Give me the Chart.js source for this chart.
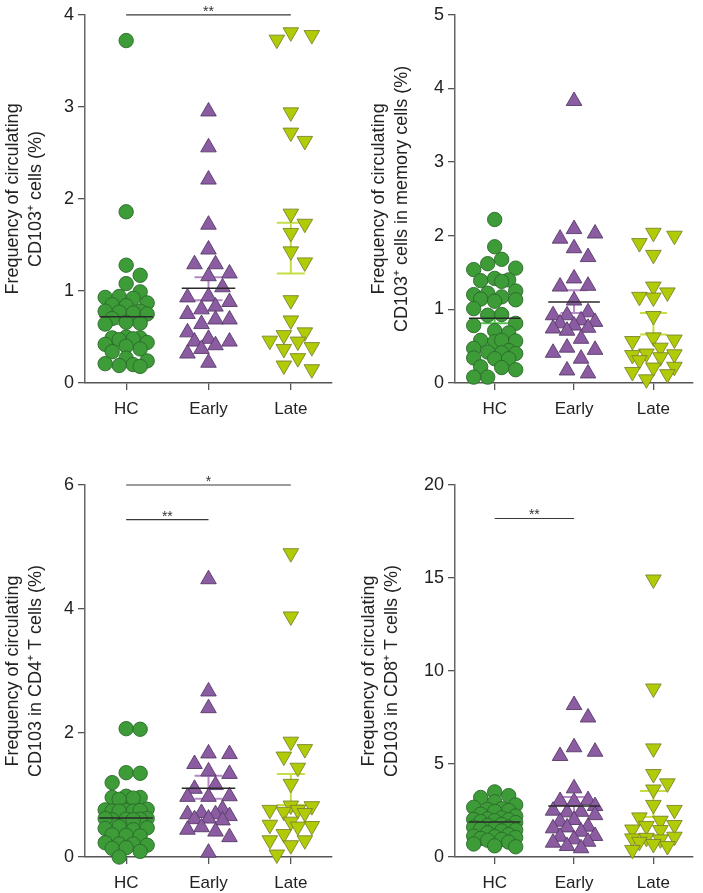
<!DOCTYPE html>
<html><head><meta charset="utf-8">
<script src="https://cdn.jsdelivr.net/npm/chart.js@4.4.1/dist/chart.umd.min.js"></script>
<style>
html,body{margin:0;padding:0;background:#fff;width:703px;height:893px;overflow:hidden}
canvas{position:absolute}
</style></head><body>
<canvas id="c1" width="352" height="430" style="left:0px;top:0px"></canvas>
<canvas id="c2" width="351" height="430" style="left:352px;top:0px"></canvas>
<canvas id="c3" width="352" height="453" style="left:0px;top:440px"></canvas>
<canvas id="c4" width="351" height="453" style="left:352px;top:440px"></canvas>
<script>
// ---------- DATA ----------
const categories = ['HC', 'Early', 'Late'];

// Panel A: CD103+ cells (%)
const hcCD103 = [3.72, 1.86, 1.28, 1.17, 1.08, 0.99, 0.93, 0.92, 0.94, 0.87, 0.85, 0.84, 0.78, 0.76, 0.77, 0.75, 0.78, 0.70, 0.66, 0.64, 0.65, 0.49, 0.50, 0.49, 0.48, 0.47, 0.42, 0.44, 0.37, 0.40, 0.34, 0.27, 0.24, 0.20, 0.19, 0.18, 0.21];
const earlyCD103 = [2.95, 2.56, 2.21, 1.72, 1.45, 1.29, 1.29, 1.19, 1.16, 1.04, 0.94, 0.88, 0.93, 0.83, 0.80, 0.75, 0.69, 0.69, 0.64, 0.55, 0.45, 0.48, 0.45, 0.41, 0.37, 0.32, 0.22];
const lateCD103 = [3.81, 3.78, 3.73, 2.94, 2.72, 2.63, 1.84, 1.73, 1.63, 1.43, 1.31, 0.90, 0.68, 0.55, 0.52, 0.46, 0.45, 0.39, 0.37, 0.27, 0.19, 0.15];
const meanCD103 = [0.72, 1.03, null];
const semLowCD103 = [0.64, 0.90, 1.19];
const semHighCD103 = [0.80, 1.15, 1.74];
const sigCD103 = [[0, 2, 4, '**']];

// Panel B: CD103+ cells in memory cells (%)
const hcMemory = [2.22, 1.85, 1.68, 1.62, 1.56, 1.54, 1.39, 1.42, 1.40, 1.38, 1.25, 1.22, 1.20, 1.13, 1.17, 1.14, 1.11, 1.01, 0.93, 0.92, 0.81, 0.78, 0.71, 0.68, 0.58, 0.56, 0.58, 0.57, 0.47, 0.44, 0.41, 0.42, 0.40, 0.33, 0.34, 0.33, 0.21, 0.18, 0.22, 0.08, 0.08];
const earlyMemory = [3.83, 2.09, 2.03, 1.96, 1.83, 1.71, 1.42, 1.32, 1.31, 1.12, 0.96, 0.92, 0.92, 0.85, 0.83, 0.81, 0.78, 0.75, 0.74, 0.71, 0.60, 0.48, 0.45, 0.41, 0.33, 0.17, 0.13];
const lateMemory = [2.04, 2.00, 1.90, 1.74, 1.31, 1.23, 1.17, 1.16, 0.91, 0.62, 0.57, 0.59, 0.48, 0.40, 0.39, 0.38, 0.35, 0.31, 0.22, 0.21, 0.15, 0.12, 0.05];
const meanMemory = [0.88, 1.10, null];
const semLowMemory = [0.81, 0.95, 0.66];
const semHighMemory = [0.96, 1.26, 0.95];
const sigMemory = [];

// Panel C: CD103 in CD4+ T cells (%)
const hcCD4 = [2.07, 2.06, 1.36, 1.35, 1.20, 0.98, 0.96, 0.95, 0.96, 0.93, 0.76, 0.75, 0.74, 0.77, 0.74, 0.74, 0.75, 0.62, 0.61, 0.60, 0.62, 0.61, 0.60, 0.47, 0.49, 0.44, 0.46, 0.36, 0.35, 0.34, 0.23, 0.21, 0.19, 0.21, 0.14, 0.15, 0.09, 0.0];
const earlyCD4 = [4.48, 2.67, 2.40, 1.67, 1.66, 1.50, 1.38, 1.34, 1.16, 1.10, 0.98, 0.97, 0.97, 0.77, 0.71, 0.69, 0.69, 0.66, 0.62, 0.61, 0.59, 0.48, 0.44, 0.41, 0.32, 0.07];
const lateCD4 = [4.90, 3.88, 1.86, 1.74, 1.62, 1.44, 1.18, 0.83, 0.82, 0.76, 0.76, 0.73, 0.71, 0.57, 0.52, 0.50, 0.49, 0.37, 0.27, 0.27, 0.19, 0.04];
const meanCD4 = [0.63, 1.11, null];
const semLowCD4 = [0.55, 0.94, 0.84];
const semHighCD4 = [0.71, 1.31, 1.34];
const sigCD4 = [[0, 2, 6, '*'], [0, 1, 5.44, '**']];

// Panel D: CD103 in CD8+ T cells (%)
const hcCD8 = [3.5, 3.3, 3.2, 2.97, 2.8, 2.67, 2.6, 2.55, 2.5, 2.45, 2.3, 2.2, 2.1, 2.05, 2.02, 2.0, 1.95, 1.9, 1.85, 1.75, 1.7, 1.6, 1.6, 1.55, 1.5, 1.45, 1.4, 1.3, 1.2, 1.12, 1.1, 1.05, 1.0, 0.95, 0.9, 0.8, 0.7, 0.6, 0.55];
const earlyCD8 = [8.17, 7.5, 5.9, 5.66, 5.43, 3.69, 3.06, 3.01, 2.97, 2.74, 2.49, 2.43, 2.40, 2.25, 1.99, 1.90, 1.63, 1.59, 1.54, 1.36, 1.13, 1.09, 0.95, 0.82, 0.77, 0.59, 0.47];
const lateCD8 = [14.92, 9.06, 5.84, 4.46, 3.96, 3.63, 2.80, 2.53, 2.13, 1.95, 1.72, 1.67, 1.48, 1.45, 1.09, 1.03, 1.00, 0.95, 0.82, 0.70, 0.59, 0.38];
const meanCD8 = [1.88, 2.74, null];
const semLowCD8 = [1.72, 2.28, 2.15];
const semHighCD8 = [2.04, 3.22, 3.55];
const sigCD8 = [[0, 1, 18.2, '**']];

// Axis settings
const yMaxList = [4, 5, 6, 20];
const yStepList = [1, 1, 2, 5];
const titleCD103 = ['Frequency of circulating', 'CD103\u207A cells (%)'];
const titleMemory = ['Frequency of circulating', 'CD103\u207A cells in memory cells (%)'];
const titleCD4 = ['Frequency of circulating', 'CD103 in CD4\u207A T cells (%)'];
const titleCD8 = ['Frequency of circulating', 'CD103 in CD8\u207A T cells (%)'];

// ---------- STYLE ----------
const FILL = ['#3d9b38', '#8c5ca2', '#b2cb07'];
const EDGE = ['#2a6a2a', '#573a68', '#7b8530'];
const SEMC = ['#55c24f', '#b58ac6', '#c6dd45'];
const FONT = "'Liberation Sans', Arial, sans-serif";
const MEAN_HW = 0.325, CAP_HW = 0.17;

function makeDecor(p) {
  return {
    id: 'decor',
    beforeDatasetsDraw(chart) {
      const {ctx, scales: {x, y}} = chart;
      ctx.save();
      for (let i = 0; i < 3; i++) {
        const lo = p.semLo[i], hi = p.semHi[i];
        if (lo == null) continue;
        const cx = x.getPixelForValue(i), hw = x.getPixelForValue(i + CAP_HW) - cx;
        const yl = y.getPixelForValue(lo), yh = y.getPixelForValue(hi);
        ctx.strokeStyle = SEMC[i]; ctx.lineWidth = 2;
        ctx.beginPath();
        ctx.moveTo(cx, yl); ctx.lineTo(cx, yh);
        ctx.moveTo(cx - hw, yl); ctx.lineTo(cx + hw, yl);
        ctx.moveTo(cx - hw, yh); ctx.lineTo(cx + hw, yh);
        ctx.stroke();
      }
      ctx.restore();
    },
    afterDatasetsDraw(chart) {
      const {ctx, scales: {x, y}} = chart;
      ctx.save();
      for (let i = 0; i < 3; i++) {
        const m = p.means[i];
        if (m == null) continue;
        const cx = x.getPixelForValue(i), hw = x.getPixelForValue(i + MEAN_HW) - cx;
        const ym = y.getPixelForValue(m);
        ctx.strokeStyle = '#2a2a2a'; ctx.lineWidth = 1.6;
        ctx.beginPath(); ctx.moveTo(cx - hw, ym); ctx.lineTo(cx + hw, ym); ctx.stroke();
      }
      p.sig.forEach(([a, b, v, lab]) => {
        const x1 = x.getPixelForValue(a), x2 = x.getPixelForValue(b), yy = y.getPixelForValue(v);
        ctx.strokeStyle = '#3a3a3a'; ctx.lineWidth = 1.2;
        ctx.beginPath(); ctx.moveTo(x1, yy); ctx.lineTo(x2, yy); ctx.stroke();
        ctx.fillStyle = '#333'; ctx.font = '14px ' + FONT;
        ctx.textAlign = 'center'; ctx.textBaseline = 'alphabetic';
        ctx.fillText(lab, (x1 + x2) / 2, yy + 1);
      });
      ctx.restore();
    }
  };
}

// deterministic dot-plot arrangement (no randomness): each point takes the first
// free horizontal slot; when the column is full it takes the least-crowded slot
function swarm(chart, values, cat, thr, step, maxSteps) {
  const xs = chart.scales.x, ys = chart.scales.y;
  const ppu = xs.getPixelForValue(1) - xs.getPixelForValue(0);
  const idx = values.map((v, i) => i).sort((a, b) => values[b] - values[a]);
  const cands = [0];
  for (let k = 1; k <= maxSteps; k++) { cands.push(k * step, -k * step); }
  const placed = [], off = new Array(values.length).fill(0);
  for (const i of idx) {
    const py = ys.getPixelForValue(values[i]);
    let best = 0, bestD = -1, chosen = null;
    for (const c of cands) {
      let md = Infinity;
      for (const q of placed) { md = Math.min(md, Math.hypot(q.x - c, q.y - py)); }
      if (md >= thr) { chosen = c; break; }
      if (md > bestD) { bestD = md; best = c; }
    }
    if (chosen === null) chosen = best;
    placed.push({x: chosen, y: py}); off[i] = chosen;
  }
  return values.map((v, i) => ({x: cat + off[i] / ppu, y: v}));
}

function build(id, p) {
  const groups = [p.hc, p.early, p.late];
  const ds = groups.map((vals, i) => ({
    data: vals.map(v => ({x: i, y: v})),
    pointStyle: i === 0 ? 'circle' : 'triangle',
    pointRotation: i === 2 ? 180 : 0,
    pointRadius: i === 0 ? 7.2 : 9,
    backgroundColor: FILL[i],
    borderColor: EDGE[i],
    pointBorderWidth: 0.9,
    clip: false
  }));
  const chart = new Chart(document.getElementById(id), {
    type: 'scatter',
    data: {datasets: ds},
    options: {
      responsive: false, animation: false, devicePixelRatio: 1, events: [],
      layout: {padding: {left: p.padLeft, top: p.padTop, right: p.padRight, bottom: 0}},
      plugins: {legend: {display: false}, tooltip: {enabled: false}},
      scales: {
        x: {
          type: 'linear', min: -0.5, max: 2.5,
          afterBuildTicks: s => { s.ticks = [0, 1, 2].map(v => ({value: v})); },
          afterFit: s => { s.height = p.xAxisH; },
          ticks: {callback: v => categories[v], color: '#222', font: {family: FONT, size: 17}, padding: 9, maxRotation: 0},
          grid: {drawOnChartArea: false, drawTicks: true, tickLength: 7, color: '#555', lineWidth: 1.3},
          border: {display: true, color: '#555', width: 1.5}
        },
        y: {
          min: 0, max: p.yMax,
          afterFit: s => { s.width = p.axisW; },
          ticks: {stepSize: p.yStep, color: '#222', font: {family: FONT, size: 18}, padding: 4},
          grid: {drawOnChartArea: false, drawTicks: true, tickLength: 7, color: '#555', lineWidth: 1.3},
          border: {display: true, color: '#666', width: 1.5},
          title: {display: true, text: p.title, color: '#222', font: {family: FONT, size: 18, lineHeight: 1.25}, padding: {top: 0, bottom: 0}}
        }
      }
    },
    plugins: [makeDecor(p)]
  });
  groups.forEach((vals, i) => {
    const thr = i === 0 ? 14 : 15;
    chart.data.datasets[i].data = swarm(chart, vals, i, thr, 7, 3);
  });
  chart.update('none');
  return chart;
}

build('c1', {hc: hcCD103, early: earlyCD103, late: lateCD103, means: meanCD103, semLo: semLowCD103, semHi: semHighCD103, sig: sigCD103,
  yMax: yMaxList[0], yStep: yStepList[0], title: titleCD103, padLeft: 2, axisW: 83, padTop: 13, padRight: 20, xAxisH: 47});
build('c2', {hc: hcMemory, early: earlyMemory, late: lateMemory, means: meanMemory, semLo: semLowMemory, semHi: semHighMemory, sig: sigMemory,
  yMax: yMaxList[1], yStep: yStepList[1], title: titleMemory, padLeft: 16, axisW: 87, padTop: 13, padRight: 1, xAxisH: 47});
build('c3', {hc: hcCD4, early: earlyCD4, late: lateCD4, means: meanCD4, semLo: semLowCD4, semHi: semHighCD4, sig: sigCD4,
  yMax: yMaxList[2], yStep: yStepList[2], title: titleCD4, padLeft: 2, axisW: 83, padTop: 45, padRight: 20, xAxisH: 36});
build('c4', {hc: hcCD8, early: earlyCD8, late: lateCD8, means: meanCD8, semLo: semLowCD8, semHi: semHighCD8, sig: sigCD8,
  yMax: yMaxList[3], yStep: yStepList[3], title: titleCD8, padLeft: 6, axisW: 97, padTop: 45, padRight: 1, xAxisH: 36});
</script>
</body></html>
